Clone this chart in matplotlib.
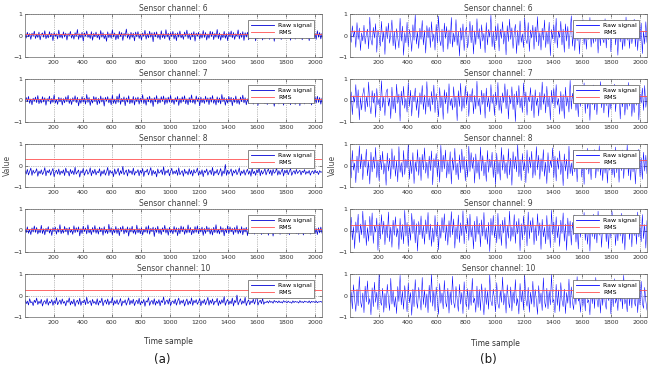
import numpy as np
import matplotlib.pyplot as plt

channels = [6, 7, 8, 9, 10]

# raw signal values (x100)
raw_a6 = [4,-12,15,-6,9,-18,11,-3,20,-14,7,-9,16,-20,5,12,-8,22,-15,3,-11,18,-6,10,-24,14,-4,8,-16,25,-10,6,
          -13,17,-7,11,-21,9,-2,19,-12,6,-17,13,-5,28,-18,8,-10,15,-26,12,-4,21,-9,5,-14,18,-22,10,-6,16,-11,7,
          -19,23,-8,13,-15,4,-27,17,-10,9,-13,26,-7,12,-20,6,-16,19,-5,14,-23,10,-3,30,-12,8,-18,15,-9,11,-25,16,
          -6,18,-14,7,-21,12,-4,24,-17,9,-11,20,-8,13,-29,15,-6,17,-12,5,-19,22,-10,8,-15,27,-7,11,-22,14,-5,19,
          -16,10,-24,13,-8,21,-11,6,-18,16,-4,25,-14,9,-20,12,-7,18,-26,11,-3,15,-17,8,-12,23,-9,14,-21,7,-13,20,
          -5,17,-19,10,-8,28,-15,12,-22,6,-10,19,-13,9,-24,16,-6,21,-11,14,-18,8,-4,26,-16,11,-9,18,-23,13,-7,15,
          -20,9,-12,22,-6,16,-25,10,-14,19,-8,13,-21,7,-16,24,-10,12,-18,6,-11,20,-27,15,-5,17,-13,9,-19,23,-8,11,
          -15,18,-7,12,-22,14,-4,21,-17,8,-10,25,-13,16,-20,6,-9,19,-14,11,-24,13,-6,17,-12,9,-18,22,-8,14,-16,10]
raw_a7 = [-8,14,-5,19,-13,7,-20,11,-4,16,-10,23,-15,6,-12,18,-7,13,-22,9,-3,20,-16,10,-9,26,-12,5,-18,15,-6,12,
          -21,9,-11,17,-6,24,-14,8,-19,13,-4,22,-10,15,-25,7,-13,18,-8,11,-17,28,-9,14,-23,6,-12,19,-5,16,-20,10,
          -14,21,-7,12,-26,15,-3,18,-11,9,-20,25,-13,7,-16,20,-9,31,-18,10,-6,17,-24,12,-8,22,-15,6,-12,19,-21,13,
          -5,16,-17,11,-9,27,-14,8,-22,15,-6,20,-12,10,-28,14,-7,23,-16,9,-11,18,-4,21,-19,12,-13,16,-8,24,-10,6,
          -18,13,-6,19,-23,10,-12,17,-5,22,-15,8,-20,14,-9,26,-11,7,-17,21,-4,13,-25,16,-10,9,-14,20,-7,12,-19,15,
          -8,23,-13,6,-21,17,-10,12,-16,28,-5,14,-22,9,-12,19,-7,15,-24,11,-9,21,-14,7,-18,16,-6,25,-11,13,-20,8,
          -13,18,-4,22,-17,10,-8,15,-23,12,-11,26,-6,17,-15,9,-19,14,-5,20,-12,8,-27,16,-9,13,-16,21,-7,11,-22,14,
          -10,17,-14,9,-20,24,-6,13,-18,11,-8,19,-24,15,-5,12,-16,22,-11,7,-13,18,-21,10,-7,16,-12,20,-9,14,-17,11]
raw_a8 = [-24,-40,-18,-44,-28,-12,-46,-22,-36,-30,-15,-50,-26,-38,-20,-42,-32,-10,-48,-24,-34,-19,-45,-28,-14,-52,-30,-22,-40,-16,-44,-26,
          -36,-20,-47,-12,-33,-27,-49,-18,-38,-24,-43,-8,-40,-30,-21,-54,-25,-35,-14,-46,-29,-19,-41,-32,-11,-48,-23,-37,-17,-44,-28,-34,
          -15,-50,-26,-39,-20,-45,-31,-9,-47,-22,-36,-27,-52,-16,-40,-29,-13,-46,-24,-38,-4,-43,-30,-21,-49,-18,-35,-25,-42,-12,-45,-28,
          -33,-19,-48,-23,-37,-14,-51,-26,-31,-17,-44,-28,-10,-47,-22,-39,-27,-53,-16,-36,-30,-20,-42,-6,-45,-25,-34,-18,-48,-29,-13,-41,
          -26,-38,-21,-46,-11,-43,-32,-24,-50,-17,-37,-28,-44,-15,-40,-23,-49,-19,-35,-29,-12,-46,-26,-41,-20,-52,-24,-33,-16,-45,-30,-22,
          -42,-9,-48,-27,-36,-18,-44,-31,-14,-50,-25,-38,5,-46,-22,-40,-28,-16,-49,-24,-35,-19,-43,-30,-11,-47,-26,-37,-20,-45,-29,-17,
          -41,-25,-50,-13,-38,-27,-46,-20,-34,-8,-48,-23,-40,-29,-15,-44,-26,-16,-39,-21,-47,-18,-36,-30,-12,-45,-24,-42,-28,-16,-49,-22,
          -35,-20,-43,-27,-14,-46,-31,-24,-40,-18,-37,-29,-22,-44,-26,-33,-19,-41,-28,-36,-23,-45,-30,-25,-39,-21,-34,-27,-42,-24,-32,-29]
raw_a9 = [6,-10,17,-13,4,-19,12,-7,21,-9,14,-16,3,-11,24,-14,8,-20,10,-5,18,-12,7,-23,13,-4,16,-17,9,-8,27,-15,
          5,-12,19,-6,11,-21,15,-9,4,-18,22,-10,13,-7,17,-25,8,-14,20,-5,12,-16,26,-11,6,-19,14,-8,23,-13,9,-17,
          16,-6,11,-22,18,-12,5,-15,29,-9,13,-20,7,-11,19,-14,10,-24,15,-4,21,-16,8,-10,17,-26,12,-7,20,-13,6,-18,
          25,-11,9,-15,14,-21,6,-8,18,-13,23,-17,10,-5,16,-28,12,-9,20,-14,7,-19,13,-6,24,-12,9,-22,15,-10,5,-16,
          19,-8,13,-24,11,-15,21,-6,17,-18,8,-12,26,-10,14,-20,5,-13,18,-9,22,-15,11,-7,16,-23,10,-14,20,-5,13,-17,
          8,-21,15,-10,27,-13,6,-16,19,-8,12,-25,9,-11,22,-14,17,-6,10,-19,14,-9,23,-16,7,-12,18,-20,11,-7,15,-24,
          12,-9,20,-14,6,-17,16,-11,24,-8,13,-19,9,-15,21,-6,11,-22,17,-10,14,-26,8,-13,19,-7,15,-18,10,-12,22,-9,
          13,-16,8,-20,18,-11,14,-7,21,-15,10,-18,16,-9,12,-21,7,-13,19,-10,15,-17,11,-8,20,-14,9,-19,13,-11,16,-12]
raw_a10 = [-20,-38,-26,-44,-15,-34,-29,-47,-22,-33,-12,-42,-27,-37,-18,-49,-30,-24,-40,-14,-45,-28,-35,-19,-46,-25,-38,-10,-43,-31,-21,-41,
           -16,-36,-28,-48,-23,-32,-11,-44,-26,-39,-17,-50,-29,-22,-41,-13,-46,-27,-34,-20,-43,-8,-38,-30,-24,-47,-18,-36,-28,-42,-15,-45,
           -25,-33,-12,-48,-29,-21,-40,-16,-44,-27,-35,-9,-46,-24,-38,-19,-42,-31,-14,-49,-26,-34,-20,-45,-28,-11,-43,-23,-37,-17,-47,-30,
           -22,-39,-13,-44,-27,-36,-18,-50,-25,-31,-10,-46,-29,-23,-41,-15,-45,-26,-37,-19,-48,-24,-33,-7,-43,-28,-21,-40,-14,-47,-30,-25,
           -38,-17,-45,-27,-12,-42,-24,-35,-20,-49,-29,-16,-44,-26,-39,-11,-46,-23,-34,-19,-41,-30,-14,-48,-25,-36,-18,-43,-28,-9,-45,-22,
           -37,-16,-44,-27,-31,-13,-47,-24,-40,-20,-35,-5,-46,-29,-18,-42,-26,-38,-12,-49,-23,-33,2,-44,-28,-15,-41,-25,-36,-8,-47,-30,
           -20,-43,-26,-34,-17,-40,-24,6,-45,-29,-22,-38,-14,-41,-30,-33,-26,-35,-24,-32,-28,-36,-23,-31,-27,-34,-25,-33,-29,-35,-24,-31,
           -28,-34,-26,-32,-30,-36,-25,-33,-27,-31,-29,-35,-24,-32,-28,-34,-26,-30,-29,-33,-25,-35,-27,-31,-28,-33,-26,-34,-29,-30,-27,-32]

raw_b6 = [10,-32,45,-8,22,-55,60,-18,35,-70,12,-25,48,-40,5,30,-62,85,-20,-45,38,-12,55,-78,25,-5,-50,66,-30,18,-88,42,
          -15,58,-36,8,72,-48,20,-65,32,-10,-58,80,-26,44,-92,14,-34,62,-52,28,-6,-74,50,-22,96,-40,16,-60,34,-18,70,-44,
          24,-82,46,-12,38,-56,64,-28,8,-68,52,-36,90,-20,-48,30,-76,58,-14,42,-64,26,-38,84,-54,12,-30,74,-46,20,-96,36,
          -22,54,-70,16,40,-58,-10,66,-34,48,-86,22,-42,78,-16,32,-62,50,-26,10,-80,60,-44,28,-8,94,-52,18,-66,44,-24,56,
          -72,30,-14,64,-40,20,-90,46,-28,76,-18,36,-60,12,52,-84,24,-46,68,-32,8,-56,82,-20,-38,60,-74,26,-12,48,-64,40,
          -30,88,-48,14,-68,34,-22,72,-56,18,-40,62,-94,28,-16,50,-36,80,-58,22,-10,66,-44,30,-78,54,-26,42,-62,16,92,-50,
          20,-70,38,-24,58,-86,32,-12,74,-42,26,-64,48,-18,84,-54,14,-36,70,-28,44,-82,22,-48,62,-16,-34,78,-58,30,-20,52,
          -76,36,-14,68,-44,24,-92,56,-30,40,-66,18,-50,86,-22,34,-60,46,-38,12,76,-52,28,-70,42,-26,58,-84,20,-40,64,-32]
raw_b7 = [-18,40,-66,22,-8,74,-36,50,-90,14,-44,28,60,-52,18,-30,86,-24,-62,46,-12,34,-78,56,-20,8,-48,92,-32,16,-70,38,
          54,-26,12,-84,62,-40,20,-58,76,-14,30,-96,44,-22,66,-36,10,-54,82,-28,48,-72,24,-6,58,-46,16,-80,36,-18,70,-42,
          26,-64,88,-30,14,-50,42,-20,72,-56,32,-12,-76,60,-34,22,-88,50,-16,38,-60,78,-24,10,-44,64,-32,20,-94,46,-28,80,
          -50,18,-36,68,-20,42,-74,30,-8,56,-62,24,-40,90,-26,12,-66,48,-18,34,-82,58,-30,16,-52,74,-14,28,-70,40,-22,84,
          -46,20,-60,36,-10,78,-38,52,-86,24,-16,64,-42,30,-98,44,-20,70,-34,14,-56,82,-28,40,-68,18,-6,60,-48,26,-80,50,
          -24,12,-72,38,-44,86,-18,32,-58,66,-30,20,-90,48,-14,56,-36,74,-22,10,-64,42,-50,28,-84,62,-26,16,-54,94,-40,34,
          -12,68,-46,22,-76,40,-28,58,-16,82,-60,30,-38,14,-92,52,-20,72,-44,26,-66,36,-10,88,-34,18,-58,46,-24,64,-78,28,
          -40,54,-18,76,-52,32,-14,62,-86,24,-30,48,-68,20,-42,84,-26,38,-74,16,-56,66,-22,44,-90,30,-12,58,-46,70,-32,20]
raw_b8 = [36,-58,70,-22,12,-80,44,-34,92,-16,54,-66,28,-8,76,-48,20,-86,62,-30,40,-14,84,-56,24,-72,48,-20,66,-40,10,-92,
          58,-26,34,-62,78,-18,46,-50,22,-76,88,-32,14,-54,70,-42,30,-12,96,-64,26,-38,60,-84,18,-28,74,-46,38,-70,52,-20,
          82,-36,16,-60,44,-24,68,-90,32,-10,56,-52,28,-78,94,-30,48,-16,72,-58,20,-40,64,-86,36,-22,80,-44,12,-66,50,-34,
          76,-18,42,-72,26,-54,90,-28,60,-14,38,-82,54,-36,22,-64,86,-26,46,-48,16,-74,70,-32,30,-10,62,-56,24,-88,58,-40,
          20,-68,84,-22,50,-38,14,-60,78,-44,34,-92,64,-16,42,-30,98,-52,28,-70,56,-24,18,-80,72,-36,40,-12,66,-58,26,-46,
          88,-20,48,-64,32,-28,74,-50,16,-84,60,-34,24,-10,82,-56,44,-72,36,-18,68,-42,20,-94,54,-26,30,-62,90,-38,12,-48,
          70,-30,56,-76,22,-16,64,-54,38,-88,46,-20,80,-40,26,-66,52,-12,74,-58,34,-28,92,-46,18,-70,60,-36,42,-82,28,-22,
          66,-44,14,-56,86,-34,50,-78,30,-24,72,-60,40,-18,96,-48,24,-68,58,-30,44,-86,20,-14,76,-52,36,-64,62,-26,48,-38]
raw_b9 = [-28,62,-44,18,-84,40,-12,76,-56,30,-20,90,-36,48,-70,14,-50,66,-24,82,-60,22,-8,58,-92,34,-40,74,-18,44,-66,26,
          -34,86,-52,16,-78,48,-22,64,-30,10,-88,56,-42,28,-62,94,-26,38,-72,20,-46,80,-14,52,-58,32,-96,42,-20,68,-38,24,
          -64,50,-16,84,-44,30,-74,12,-54,70,-28,40,-90,22,-36,60,-10,78,-48,26,-68,46,-32,88,-20,54,-82,18,-40,72,-56,36,
          -24,92,-62,28,-14,58,-46,76,-30,20,-86,44,-52,66,-18,34,-76,50,-26,84,-42,14,-64,38,-98,56,-22,70,-34,24,-58,80,
          -40,30,-70,48,-12,62,-84,22,-36,90,-50,18,-28,74,-60,42,-16,56,-94,32,-44,68,-20,26,-72,86,-38,46,-10,60,-66,20,
          -48,78,-24,36,-88,52,-30,16,-62,70,-42,28,-80,94,-18,40,-56,64,-34,22,-74,48,-14,82,-50,30,-92,58,-26,44,-68,38,
          -20,72,-54,26,-86,46,-32,60,-12,84,-46,18,-64,36,-96,52,-28,76,-40,14,-58,90,-22,42,-78,32,-16,66,-52,24,-84,56,
          -36,88,-18,44,-70,28,-48,62,-26,80,-60,20,-90,50,-14,68,-42,34,-76,58,-24,40,-64,86,-30,16,-52,74,-38,28,-82,46]
raw_b10 = [-36,18,-62,50,-20,-74,30,-48,88,-26,-56,12,-80,44,-30,68,-42,-14,-90,36,-52,62,-32,16,-66,98,-24,-46,34,-78,10,-58,
           52,-16,-70,80,-40,24,-54,-6,-84,42,-28,94,-44,20,-64,46,-18,-76,58,-34,14,-92,30,-52,74,-22,-60,38,-12,-68,84,-42,
           26,-56,8,-80,48,-32,100,-50,22,-72,40,-26,-88,56,-36,12,-62,70,-28,-54,34,-82,18,-44,90,-30,-58,42,-20,-74,52,-40,
           14,-84,64,-28,-52,32,-66,24,-46,80,-34,-12,-78,44,-56,28,-70,54,-22,-90,36,-42,20,-64,96,-26,-48,30,-16,-76,60,-38,
           -60,22,-32,86,-44,10,-82,50,-26,-58,40,-72,18,-36,74,-48,-14,-86,56,-30,24,-68,92,-20,-50,38,-78,16,-40,66,-54,28,
           -24,-88,46,-38,12,-70,82,-28,-56,34,-62,20,-44,98,-32,-18,-80,52,-46,26,-74,60,-22,-52,30,-84,14,-36,76,-58,40,-30,
           -66,24,-42,88,-26,-12,-78,48,-50,18,-72,62,-34,-20,-90,44,-38,28,-60,84,-16,-54,36,-82,20,-46,70,-30,-64,50,-24,12,
           -86,40,-52,78,-36,-8,-70,56,-28,22,-62,94,-40,-16,-76,46,-48,30,-58,72,-22,-50,34,-80,18,-44,66,-34,-60,38,-26,-68]

rms_a = [0.08, 0.08, 0.29, 0.08, 0.27]
rms_b = [0.22, 0.22, 0.27, 0.27, 0.26]

xticks = [200, 400, 600, 800, 1000, 1200, 1400, 1600, 1800, 2000]
yticks = [-1, 0, 1]

W, H = 653, 367
fig = plt.figure(figsize=(W / 100, H / 100), dpi=100)

tops = [14, 79, 144, 209, 274]
cols = [(25, [raw_a6, raw_a7, raw_a8, raw_a9, raw_a10], rms_a, 0.5, '#0000d2'),
        (350, [raw_b6, raw_b7, raw_b8, raw_b9, raw_b10], rms_b, 0.35, '#0000ff')]

for left, raws, rmss, lw, c in cols:
    for i, ch in enumerate(channels):
        ax = fig.add_axes([left / W, 1 - (tops[i] + 43) / H, 297 / W, 43 / H])
        y = np.array(raws[i]) / 100
        t = np.linspace(1, 2048, len(y))
        ax.plot(t, y, color=c, lw=lw, label='Raw signal')
        ax.axhline(rmss[i], color='#ff5050', lw=0.6, label='RMS')
        ax.set_xlim(1, 2048)
        ax.set_ylim(-1, 1)
        ax.set_xticks(xticks)
        ax.set_yticks(yticks)
        ax.tick_params(direction='in', length=2, width=0.4, labelsize=4.5, pad=2,
                       colors='0.2', top=True, right=True)
        ax.grid(True, linestyle=':', color='0.5', lw=0.5)
        for s in ax.spines.values():
            s.set_color('0.4')
            s.set_linewidth(0.5)
        ax.set_title('Sensor channel: %d' % ch, fontsize=5.5, pad=2.5, color='0.25')
        leg = ax.legend(loc='upper right', bbox_to_anchor=(0.985, 0.93), fontsize=4.5,
                        handlelength=3.8, fancybox=False, framealpha=1, edgecolor='0.35',
                        borderpad=0.4, labelspacing=0.3, handletextpad=0.6)
        leg.get_frame().set_linewidth(0.5)
        for h in leg.get_lines():
            h.set_linewidth(0.6)

for x in [7, 332]:
    fig.text(x / W, 1 - 165 / H, 'Value', rotation=90, ha='center', va='center',
             fontsize=5.5, color='0.3')
fig.text(168 / W, 1 - 342 / H, 'Time sample', ha='center', va='center', fontsize=5.5, color='0.2')
fig.text(495 / W, 1 - 343 / H, 'Time sample', ha='center', va='center', fontsize=5.5, color='0.2')
fig.text(162 / W, 1 - 366.5 / H, '(a)', ha='center', va='bottom', fontsize=8.5, color='0.1')
fig.text(488 / W, 1 - 366.5 / H, '(b)', ha='center', va='bottom', fontsize=8.5, color='0.1')

fig.savefig('out.png', dpi=100)
